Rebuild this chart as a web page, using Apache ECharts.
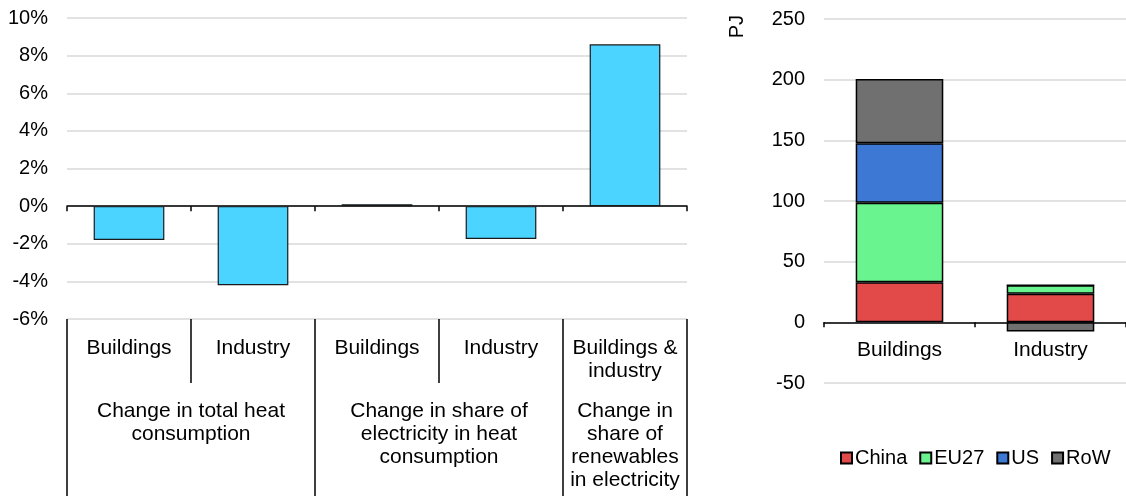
<!DOCTYPE html>
<html>
<head>
<meta charset="utf-8">
<script src="https://cdn.jsdelivr.net/npm/echarts@6/dist/echarts.min.js"></script>
<style>html,body{margin:0;padding:0;background:#fff}#c{width:1126px;height:496px}</style>
</head>
<body>
<div id="c"></div>
<script>
// Left chart data
const leftCategories = ['Buildings', 'Industry', 'Buildings', 'Industry', 'Buildings &\nindustry'];
const leftValues = [-1.8, -4.2, 0.1, -1.75, 8.6];
const leftGroups = ['Change in total heat\nconsumption', 'Change in share of\nelectricity in heat\nconsumption', 'Change in\nshare of\nrenewables\nin electricity'];
const leftGroupCenters = [1, 3, 4.5];
const leftGroupBounds = [0, 2, 4, 5];
const leftInnerBounds = [1, 3];
const leftTicks = ['-6%', '-4%', '-2%', '0%', '2%', '4%', '6%', '8%', '10%'];

// Right chart data
const rightCategories = ['Buildings', 'Industry'];
const china = [33, 23.5];
const eu27 = [65.5, 7];
const us = [49, 0];
const row = [53, -7.5];
const rightTicks = ['-50', '0', '50', '100', '150', '200', '250'];

const FONT = 'Liberation Sans, Arial, sans-serif';
const FS = 20;
const FS2 = 21;
const TXT = '#000';
const GRID = '#d9d9d9';

const chart = echarts.init(document.getElementById('c'));

const catCenters = leftCategories.map((_, i) => i + 0.5);
const catMap = {};
catCenters.forEach((v, i) => { catMap[v.toFixed(2)] = leftCategories[i]; });
const grpMap = {};
leftGroupCenters.forEach((v, i) => { grpMap[v.toFixed(2)] = leftGroups[i]; });

const option = {
  animation: false,
  textStyle: { fontFamily: FONT },
  grid: [
    { left: 67, top: 18, width: 620, height: 301, containLabel: false },
    { left: 824, top: 19, width: 302, height: 364, containLabel: false }
  ],
  xAxis: [
    {
      gridIndex: 0, type: 'category', data: leftCategories,
      axisLine: { onZero: true, lineStyle: { color: '#000', width: 1.5 } },
      axisTick: { show: true, length: 5, lineStyle: { color: '#000', width: 1.5 } },
      axisLabel: { show: false }, splitLine: { show: false }
    },
    {
      gridIndex: 0, type: 'value', min: 0, max: 5, position: 'bottom',
      axisLine: { show: false, onZero: false },
      axisTick: { show: true, length: 64, customValues: leftInnerBounds, lineStyle: { color: '#000', width: 1.5 } },
      axisLabel: {
        show: true, customValues: catCenters, margin: 18,
        formatter: v => catMap[Number(v).toFixed(2)] || '',
        color: TXT, fontSize: FS2, fontFamily: FONT, lineHeight: 23, verticalAlign: 'top', align: 'center'
      },
      splitLine: { show: false }
    },
    {
      gridIndex: 0, type: 'value', min: 0, max: 5, position: 'bottom',
      axisLine: { show: false, onZero: false },
      axisTick: { show: true, length: 177, customValues: leftGroupBounds, lineStyle: { color: '#000', width: 1.5 } },
      axisLabel: {
        show: true, customValues: leftGroupCenters, margin: 81,
        formatter: v => grpMap[Number(v).toFixed(2)] || '',
        color: TXT, fontSize: FS2, fontFamily: FONT, lineHeight: 23, verticalAlign: 'top', align: 'center'
      },
      splitLine: { show: false }
    },
    {
      gridIndex: 1, type: 'category', data: rightCategories,
      axisLine: { onZero: true, lineStyle: { color: '#000', width: 1.5 } },
      axisTick: { show: true, length: 5, lineStyle: { color: '#000', width: 1.5 } },
      axisLabel: { color: TXT, fontSize: FS2, fontFamily: FONT, margin: -43, verticalAlign: 'top' },
      splitLine: { show: false }
    }
  ],
  yAxis: [
    {
      gridIndex: 0, type: 'value', min: -6, max: 10, interval: 2,
      axisLine: { show: false }, axisTick: { show: false },
      axisLabel: { color: TXT, fontSize: FS, fontFamily: FONT, margin: 19,
        formatter: v => leftTicks[Math.round((v + 6) / 2)] },
      splitLine: { lineStyle: { color: GRID, width: 1.5 } }
    },
    {
      gridIndex: 1, type: 'value', min: -50, max: 250, interval: 50,
      axisLine: { show: false }, axisTick: { show: false },
      axisLabel: { color: TXT, fontSize: FS, fontFamily: FONT, margin: 19,
        formatter: v => rightTicks[Math.round((v + 50) / 50)] },
      splitLine: { lineStyle: { color: GRID, width: 1.5 } }
    }
  ],
  legend: {
    left: 835, top: 443, itemWidth: 11, itemHeight: 11, itemGap: 12, icon: 'rect',
    textStyle: { color: TXT, fontSize: FS, fontFamily: FONT, padding: [0, 0, 0, -2] },
    data: ['China', 'EU27', 'US', 'RoW']
  },
  graphic: [
    { type: 'text', left: 727, top: 15, rotation: Math.PI / 2,
      style: { text: 'PJ', fill: TXT, font: FS + 'px ' + FONT } }
  ],
  series: [
    {
      type: 'bar', xAxisIndex: 0, yAxisIndex: 0, data: leftValues, barCategoryGap: '43%',
      itemStyle: { color: '#4AD4FF', borderColor: '#1a1a1a', borderWidth: 1.2 }
    },
    { name: 'China', type: 'bar', stack: 'r', xAxisIndex: 3, yAxisIndex: 1, data: china, barCategoryGap: '42%',
      itemStyle: { color: '#E24A4A', borderColor: '#000', borderWidth: 1.5 } },
    { name: 'EU27', type: 'bar', stack: 'r', xAxisIndex: 3, yAxisIndex: 1, data: eu27,
      itemStyle: { color: '#6AF490', borderColor: '#000', borderWidth: 1.5 } },
    { name: 'US', type: 'bar', stack: 'r', xAxisIndex: 3, yAxisIndex: 1, data: us,
      itemStyle: { color: '#3C78D4', borderColor: '#000', borderWidth: 1.5 } },
    { name: 'RoW', type: 'bar', stack: 'r', xAxisIndex: 3, yAxisIndex: 1, data: row,
      itemStyle: { color: '#6F706F', borderColor: '#000', borderWidth: 1.5 } }
  ]
};
chart.setOption(option);
</script>
</body>
</html>
